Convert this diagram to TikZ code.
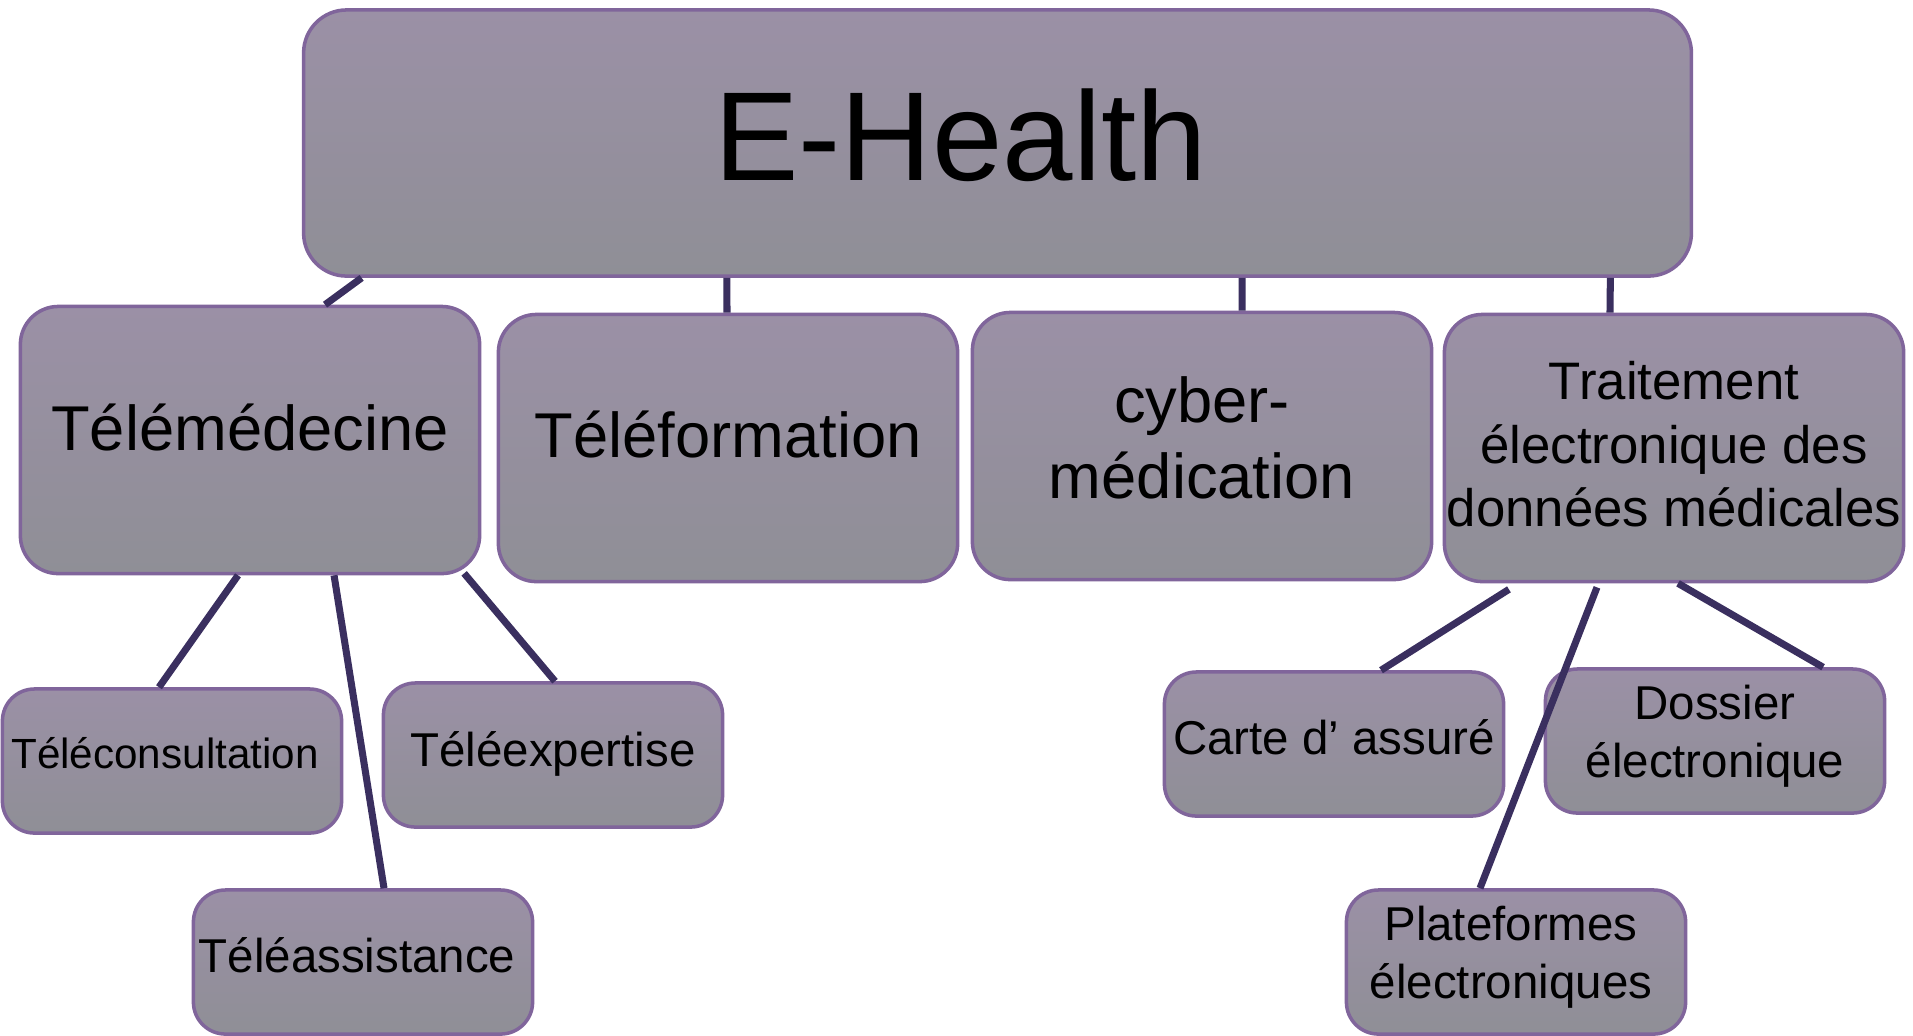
\documentclass[tikz,border=0pt]{standalone}
\usepackage{fontspec}
\setmainfont{Liberation Sans}
\usetikzlibrary{positioning,calc}

\definecolor{boxtop}{HTML}{9B90A6}
\definecolor{boxbot}{HTML}{8F8F96}
\definecolor{boxedge}{HTML}{80659B}
\definecolor{linkcol}{HTML}{3A2F5F}

\tikzset{
  box/.style={draw=boxedge, line width=1pt, top color=boxtop, bottom color=boxbot,
    rounded corners=0.38cm, align=center, inner sep=0pt,
    minimum width=4.59cm, minimum height=2.67cm, font=\fontsize{18}{21.6}\selectfont},
  leafbox/.style={box, rounded corners=0.32cm, minimum width=3.39cm, minimum height=1.44cm,
    font=\fontsize{13.5}{16.5}\selectfont},
  lift/.style={text depth=#1},
  link/.style={draw=linkcol, line width=2pt}
}

\begin{document}
\begin{tikzpicture}[x=0.01cm, y=-0.01cm]
\fill[white] (0,0) rectangle (1913,1035);
\useasboundingbox (0,0) rectangle (1913,1035);

% root
\node[box, rounded corners=0.43cm, minimum width=13.87cm, minimum height=2.66cm,
  font=\fontsize{36}{40}\selectfont, lift=0.16cm] (ehealth) at (997.5,143) {E-Health\hspace*{0.74cm}};

% second row
\node[box, lift=0.26cm] (tmed) at (250,440) {Télémédecine};
\node[box, lift=0.28cm] (tform) at (728,448) {Téléformation};
\node[box, lift=0.16cm] (cyber) at (1202,446) {cyber-\\médication};
\node[box, font=\fontsize{15}{18}\selectfont, lift=0.08cm] (trait) at (1674,448)
  {Traitement\\électronique des\\données médicales};

% leaves of Télémédecine
\node[leafbox, font=\fontsize{12}{14}\selectfont, lift=0.16cm] (tcons) at (172,761) {Téléconsultation\hspace*{0.14cm}};
\node[leafbox, lift=0.12cm] (texp) at (553,755) {Téléexpertise};
\node[leafbox, lift=0.14cm] (tassist) at (363,962) {Téléassistance\hspace*{0.12cm}};

% leaves of Traitement
\node[leafbox, lift=0.14cm] (carte) at (1334,744) {Carte d’ assuré};
\node[leafbox, lift=0.2cm] (dossier) at (1715,741) {Dossier\\électronique};
\node[leafbox, lift=0.2cm] (plate) at (1516,962) {Plateformes\hspace*{0.1cm}\\électroniques\hspace*{0.1cm}};

% connectors
\draw[link] ([xshift=-6.355cm]ehealth.south) -- ([xshift=0.75cm]tmed.north);
\draw[link] ([xshift=-2.705cm]ehealth.south) -- ([xshift=-0.01cm]tform.north);
\draw[link] ([xshift=2.445cm]ehealth.south) -- ([xshift=0.40cm]cyber.north);
\draw[link] ([xshift=6.125cm]ehealth.south) -- ([xshift=-0.64cm]trait.north);

\draw[link] ([xshift=-0.12cm]tmed.south) -- ([xshift=-0.13cm]tcons.north);
\draw[link] ([xshift=0.84cm]tmed.south) -- ([xshift=0.21cm]tassist.north);
\draw[link] ([xshift=2.14cm,yshift=0.02cm]tmed.south) -- ([xshift=0.02cm]texp.north);

\draw[link] ([xshift=-1.65cm,yshift=-0.06cm]trait.south) -- ([xshift=0.47cm]carte.north);
\draw[link] ([xshift=-0.77cm,yshift=-0.04cm]trait.south) -- ([xshift=-0.36cm]plate.north);
\draw[link] ([xshift=0.04cm]trait.south) -- ([xshift=1.08cm]dossier.north);
\end{tikzpicture}
\end{document}
